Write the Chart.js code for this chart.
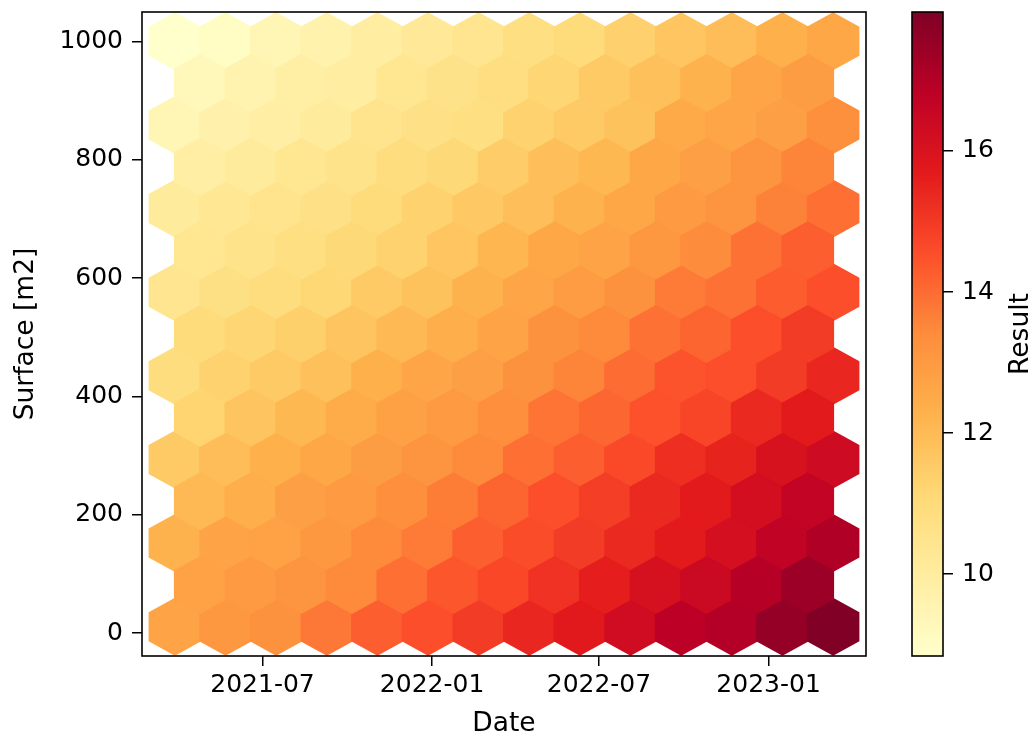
<!DOCTYPE html>
<html>
<head>
<meta charset="utf-8">
<script src="https://cdn.jsdelivr.net/npm/chart.js@4.4.1/dist/chart.umd.min.js"></script>
<style>
  html, body { margin: 0; padding: 0; background: #fff; }
  #wrap { position: relative; width: 1034px; height: 738px; }
  #hex { position: absolute; left: 0; top: 0; }
  #cbar { position: absolute; left: 880px; top: 0; }
</style>
</head>
<body>
<div id="wrap">
  <canvas id="hex" width="1034" height="738"></canvas>
  <canvas id="cbar" width="154" height="738"></canvas>
</div>
<script>
// extent of the data and hexbin grid (gridsize 13)
const dateMin = Date.UTC(2021, 2, 28);
const dateMax = Date.UTC(2023, 2, 12);
const surfaceMin = 11;
const surfaceMax = 1000;
const gridX = 13;
const gridY = 7;

const dateTicks = ['2021-07-01', '2022-01-01', '2022-07-01', '2023-01-01'];
const surfaceTicks = [0, 200, 400, 600, 800, 1000];
const resultTicks = [10, 12, 14, 16];

// mean Result per hexagon, bottom to top, left to right
// full rows (14 hexes) sit on the grid, offset rows (13 hexes) half a step in between
const full0 = [12.7, 13.1, 13.25, 13.8, 14.25, 14.55, 14.95, 15.4, 15.75, 16.3, 16.83, 17.0, 17.6, 17.97];
const offset0 = [12.75, 13.0, 13.2, 13.45, 13.95, 14.4, 14.7, 15.15, 15.6, 16.1, 16.45, 16.95, 17.45];
const full1 = [12.25, 12.7, 12.75, 13.1, 13.45, 13.75, 14.25, 14.6, 14.95, 15.35, 15.7, 16.15, 16.7, 17.05];
const offset1 = [12.05, 12.4, 12.85, 13.0, 13.35, 13.7, 14.15, 14.55, 14.9, 15.35, 15.7, 16.2, 16.65];
const full2 = [11.55, 11.95, 12.3, 12.6, 12.9, 13.2, 13.45, 13.95, 14.25, 14.65, 15.25, 15.5, 16.05, 16.35];
const offset2 = [11.25, 11.75, 12.1, 12.45, 12.8, 13.0, 13.35, 13.85, 14.1, 14.5, 14.75, 15.35, 15.7];
const full3 = [10.9, 11.3, 11.55, 11.85, 12.3, 12.65, 12.85, 13.25, 13.55, 14.0, 14.45, 14.55, 14.95, 15.4];
const offset3 = [10.95, 11.2, 11.4, 11.75, 12.05, 12.4, 12.7, 13.25, 13.45, 13.9, 14.15, 14.55, 14.95];
const full4 = [10.45, 10.75, 10.9, 11.15, 11.55, 11.8, 12.25, 12.65, 12.95, 13.25, 13.75, 13.9, 14.3, 14.55];
const offset4 = [10.35, 10.55, 10.8, 11.1, 11.3, 11.7, 12.15, 12.6, 12.7, 13.1, 13.4, 13.9, 14.25];
const full5 = [10.1, 10.3, 10.5, 10.65, 10.95, 11.3, 11.6, 11.9, 12.25, 12.6, 13.0, 13.2, 13.6, 13.95];
const offset5 = [9.9, 10.1, 10.35, 10.55, 10.9, 11.1, 11.5, 11.9, 12.1, 12.6, 12.85, 13.2, 13.55];
const full6 = [9.4, 9.7, 9.9, 10.1, 10.5, 10.65, 10.8, 11.3, 11.55, 11.8, 12.5, 12.65, 12.85, 13.3];
const offset6 = [9.3, 9.6, 9.85, 9.95, 10.35, 10.6, 10.85, 11.2, 11.55, 11.85, 12.25, 12.65, 12.9];
const full7 = [8.84, 9.05, 9.45, 9.65, 9.95, 10.2, 10.45, 10.8, 11.0, 11.35, 11.7, 11.95, 12.3, 12.6];

const fullRows = [full0, full1, full2, full3, full4, full5, full6, full7];
const offsetRows = [offset0, offset1, offset2, offset3, offset4, offset5, offset6];

// YlOrRd
const cmap = ['#ffffcc', '#ffeda0', '#fed976', '#feb24c', '#fd8d3c', '#fc4e2a', '#e31a1c', '#bd0026', '#800026'];

const allValues = fullRows.flat().concat(offsetRows.flat());
const vMin = Math.min(...allValues);
const vMax = Math.max(...allValues);

const sx = (dateMax - dateMin) / gridX;
const sy = (surfaceMax - surfaceMin) / gridY;

const points = [];
fullRows.forEach((row, j) => row.forEach((v, i) => {
  points.push({ x: dateMin + i * sx, y: surfaceMin + j * sy, v: v });
}));
offsetRows.forEach((row, j) => row.forEach((v, i) => {
  points.push({ x: dateMin + (i + 0.5) * sx, y: surfaceMin + (j + 0.5) * sy, v: v });
}));

function hexToRgb(h) {
  return [1, 3, 5].map(k => parseInt(h.substr(k, 2), 16));
}
const cmapRgb = cmap.map(hexToRgb);

function colorFor(v) {
  let t = (v - vMin) / (vMax - vMin);
  t = Math.max(0, Math.min(1, t)) * (cmap.length - 1);
  const k = Math.min(Math.floor(t), cmap.length - 2);
  const f = t - k;
  const a = cmapRgb[k], b = cmapRgb[k + 1];
  const c = a.map((q, n) => Math.round(q + (b[n] - q) * f));
  return `rgb(${c[0]}, ${c[1]}, ${c[2]})`;
}

const tickFont = { family: 'DejaVu Sans', size: 25 };
Chart.defaults.font.family = 'DejaVu Sans';
Chart.defaults.color = '#000';

const xSpan = dateMax - dateMin;
const ySpan = surfaceMax - surfaceMin;

const hexPlugin = {
  id: 'hexbins',
  beforeDatasetsDraw(chart) {
    const { ctx, chartArea, scales: { x, y } } = chart;
    const shape = [[0.5, -1 / 6], [0.5, 1 / 6], [0, 1 / 3], [-0.5, 1 / 6], [-0.5, -1 / 6], [0, -1 / 3]];
    ctx.save();
    ctx.beginPath();
    ctx.rect(chartArea.left, chartArea.top, chartArea.width, chartArea.height);
    ctx.clip();
    chart.data.datasets[0].data.forEach(p => {
      ctx.beginPath();
      shape.forEach(([a, b], k) => {
        const px = x.getPixelForValue(p.x + a * sx);
        const py = y.getPixelForValue(p.y + b * sy);
        if (k) ctx.lineTo(px, py); else ctx.moveTo(px, py);
      });
      ctx.closePath();
      const c = colorFor(p.v);
      ctx.fillStyle = c;
      ctx.strokeStyle = c;
      ctx.lineWidth = 2;
      ctx.fill();
      ctx.stroke();
    });
    ctx.restore();
  }
};

const frame = {
  id: 'frame',
  afterDraw(chart) {
    const { ctx, chartArea: a } = chart;
    ctx.save();
    ctx.strokeStyle = '#000';
    ctx.lineWidth = 1.6;
    ctx.strokeRect(a.left, a.top, a.width, a.height);
    ctx.restore();
  }
};

function fmtDate(v) {
  const d = new Date(v);
  return d.getUTCFullYear() + '-' + String(d.getUTCMonth() + 1).padStart(2, '0');
}

// no extra room for half tick labels, the frame sits where the layout padding says
function noLabelPad(s) {
  s.paddingTop = 0;
  s.paddingBottom = 0;
}

new Chart(document.getElementById('hex'), {
  type: 'scatter',
  data: {
    datasets: [{
      label: 'Result',
      data: points,
      pointRadius: 0,
      pointHoverRadius: 0,
    }]
  },
  options: {
    responsive: false,
    animation: false,
    layout: { padding: { left: 0, top: 12, right: 168, bottom: 0 } },
    plugins: {
      legend: { display: false },
      tooltip: { enabled: false },
    },
    scales: {
      x: {
        type: 'linear',
        min: dateMin - 0.05 * xSpan,
        max: dateMax + 0.05 * xSpan,
        afterFit: s => { s.height = 82; s.paddingLeft = 0; s.paddingRight = 0; },
        afterBuildTicks: s => { s.ticks = dateTicks.map(d => ({ value: Date.parse(d + 'T00:00:00Z') })); },
        ticks: { font: tickFont, color: '#000', padding: 4, maxRotation: 0, callback: v => fmtDate(v) },
        grid: { drawOnChartArea: false, tickLength: 10, color: '#000', lineWidth: 1.5 },
        border: { display: false },
        title: { display: true, text: 'Date', font: { size: 26.5, lineHeight: 1.06 }, color: '#000', padding: 0 },
      },
      y: {
        min: surfaceMin - 0.05 * ySpan,
        max: surfaceMax + 0.05 * ySpan,
        afterFit: s => { s.width = 142; noLabelPad(s); },
        afterBuildTicks: s => { s.ticks = surfaceTicks.map(v => ({ value: v })); },
        ticks: { font: tickFont, color: '#000', padding: 9, callback: v => String(v) },
        grid: { drawOnChartArea: false, tickLength: 10, color: '#000', lineWidth: 1.5 },
        border: { display: false },
        title: { display: true, text: 'Surface [m2]', font: { size: 26.5, lineHeight: 1.2 }, color: '#000', padding: { top: 10, bottom: 0 } },
      }
    }
  },
  plugins: [hexPlugin, frame]
});

// colorbar
const resultLabel = {
  id: 'resultLabel',
  afterDraw(chart) {
    const { ctx, chartArea: a } = chart;
    ctx.save();
    ctx.translate(141, (a.top + a.bottom) / 2);
    ctx.rotate(-Math.PI / 2);
    ctx.font = '26.5px "DejaVu Sans"';
    ctx.fillStyle = '#000';
    ctx.textAlign = 'center';
    ctx.textBaseline = 'middle';
    ctx.fillText('Result', 0, 0);
    ctx.restore();
  }
};

function barGradient(chart) {
  const { ctx, chartArea, scales } = chart;
  if (!chartArea) return cmap[4];
  const y = scales.y;
  const g = ctx.createLinearGradient(0, y.getPixelForValue(vMin), 0, y.getPixelForValue(vMax));
  cmap.forEach((c, k) => g.addColorStop(k / (cmap.length - 1), c));
  return g;
}

new Chart(document.getElementById('cbar'), {
  type: 'bar',
  data: {
    labels: ['Result'],
    datasets: [{
      data: [[vMin, vMax]],
      backgroundColor: c => barGradient(c.chart),
      borderWidth: 0,
      barPercentage: 1,
      categoryPercentage: 1,
    }]
  },
  options: {
    responsive: false,
    animation: false,
    layout: { padding: { left: 32, top: 12, right: 0, bottom: 82 } },
    plugins: {
      legend: { display: false },
      tooltip: { enabled: false },
    },
    scales: {
      x: { display: false },
      y: {
        position: 'right',
        min: vMin,
        max: vMax,
        afterFit: s => { s.width = 91; noLabelPad(s); },
        afterBuildTicks: s => { s.ticks = resultTicks.map(v => ({ value: v })); },
        ticks: { font: tickFont, color: '#000', padding: 9 },
        grid: { drawOnChartArea: false, tickLength: 10, color: '#000', lineWidth: 1.5 },
        border: { display: false },
      }
    }
  },
  plugins: [frame, resultLabel]
});
</script>
</body>
</html>
